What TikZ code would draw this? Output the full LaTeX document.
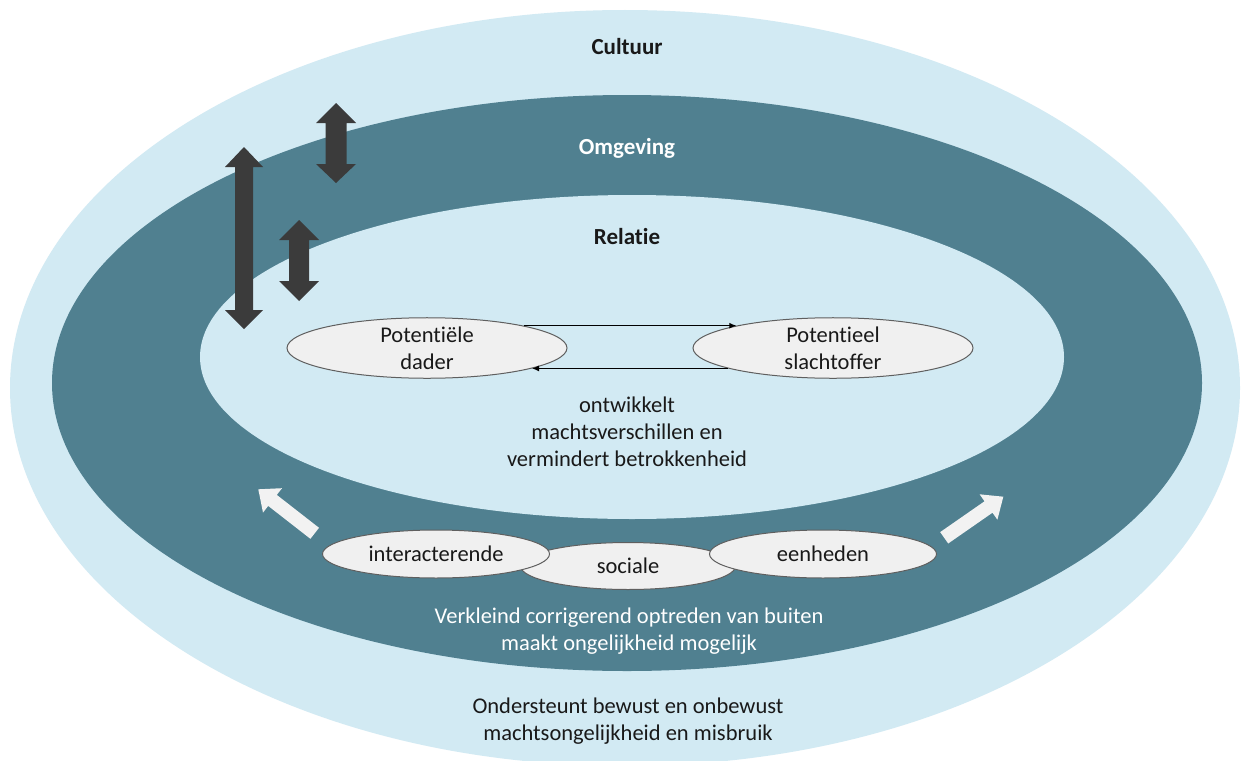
\documentclass[tikz,border=0pt]{standalone}
\usepackage{fontspec}
\setmainfont{Carlito}[Ligatures={NoCommon,NoContextual,NoRequired}]
\usetikzlibrary{shapes.geometric,arrows.meta}
\definecolor{ringlight}{RGB}{210,234,243}
\definecolor{ringdark}{RGB}{80,128,144}
\definecolor{blockdark}{RGB}{59,59,59}
\definecolor{blocklight}{RGB}{242,242,242}
\definecolor{bubblefill}{RGB}{240,240,240}
\definecolor{bubbleline}{RGB}{95,95,95}
\definecolor{inktext}{RGB}{25,25,25}
\begin{document}
\begin{tikzpicture}[x=1pt,y=-1pt,
  txt/.style={font=\fontsize{22.5}{27}\selectfont, align=center, inner sep=0pt, text=inktext},
  head/.style={font=\fontsize{23}{27}\selectfont\bfseries, inner sep=0pt, text=inktext},
  bubble/.style={ellipse, draw=bubbleline, line width=1pt, fill=bubblefill, inner sep=0pt,
    font=\fontsize{22.5}{27}\selectfont, align=center, text=inktext},
  conn/.style={line width=1.1pt, -{Latex[length=7pt,width=6pt]}},
  darkblock/.style={fill=blockdark},
  lightblock/.style={fill=blocklight}
]
\useasboundingbox (0,0) rectangle (1244,760);
\begin{scope}
\clip (0,0) rectangle (1244,760);
\fill[white] (0,0) rectangle (1244,760);
\fill[ringlight] (625,388) ellipse [x radius=615, y radius=378];
\fill[ringdark] (627,383) ellipse [x radius=575, y radius=288];
\fill[ringlight] (632,357) ellipse [x radius=432, y radius=162];
\end{scope}

% dark double arrows
\fill[darkblock] (244,147) -- (263,167) -- (253,167) -- (253,310) -- (263,310) -- (244,329)
  -- (225,310) -- (235,310) -- (235,167) -- (225,167) -- cycle;
\fill[darkblock] (336,103) -- (356,123) -- (346.5,123) -- (346.5,164) -- (356,164) -- (336,183)
  -- (316,164) -- (325.5,164) -- (325.5,123) -- (316,123) -- cycle;
\fill[darkblock] (299,220) -- (319,240) -- (309,240) -- (309,281) -- (319,281) -- (299,301)
  -- (279,281) -- (289,281) -- (289,240) -- (279,240) -- cycle;

% light arrows
\fill[lightblock] (319.0,527.8) -- (276.8,494.9) -- (282.0,488.2) -- (258.3,489.3)
  -- (263.0,512.6) -- (268.2,505.9) -- (310.4,538.8) -- cycle;
\fill[lightblock] (948.2,543.5) -- (992.5,512.7) -- (997.4,519.7) -- (1003.3,496.7)
  -- (979.6,494.3) -- (984.5,501.3) -- (940.2,532.1) -- cycle;

% titles
\node[head] (cultuur) at (627,47) {Cultuur};
\node[head, text=white] (omgeving) at (627,148) {Omgeving};
\node[head] (relatie) at (627,237) {Relatie};

% relation bubbles
\node[bubble, minimum width=280pt, minimum height=59pt] (dader) at (427,348) {Potentiële\\dader};
\node[bubble, minimum width=280pt, minimum height=59pt] (slacht) at (833,348) {Potentieel\\slachtoffer};
\draw[conn] (dader.13) -- (slacht.167);
\draw[conn] (slacht.-169) -- (dader.-11);

\node[txt] (ontw) at (627,432) {ontwikkelt\\machtsverschillen en\\vermindert betrokkenheid};

% social units
\node[bubble, minimum width=215pt, minimum height=47pt] (sociale) at (628,566) {sociale};
\node[bubble, minimum width=227pt, minimum height=48pt] (inter) at (436,554) {interacterende};
\node[bubble, minimum width=227pt, minimum height=48pt] (eenh) at (823,554) {eenheden};

\node[txt, text=white] (verkl) at (629,631) {Verkleind corrigerend optreden van buiten\\maakt ongelijkheid mogelijk};
\node[txt] (onder) at (628,721) {Ondersteunt bewust en onbewust\\machtsongelijkheid en misbruik};
\end{tikzpicture}
\end{document}
